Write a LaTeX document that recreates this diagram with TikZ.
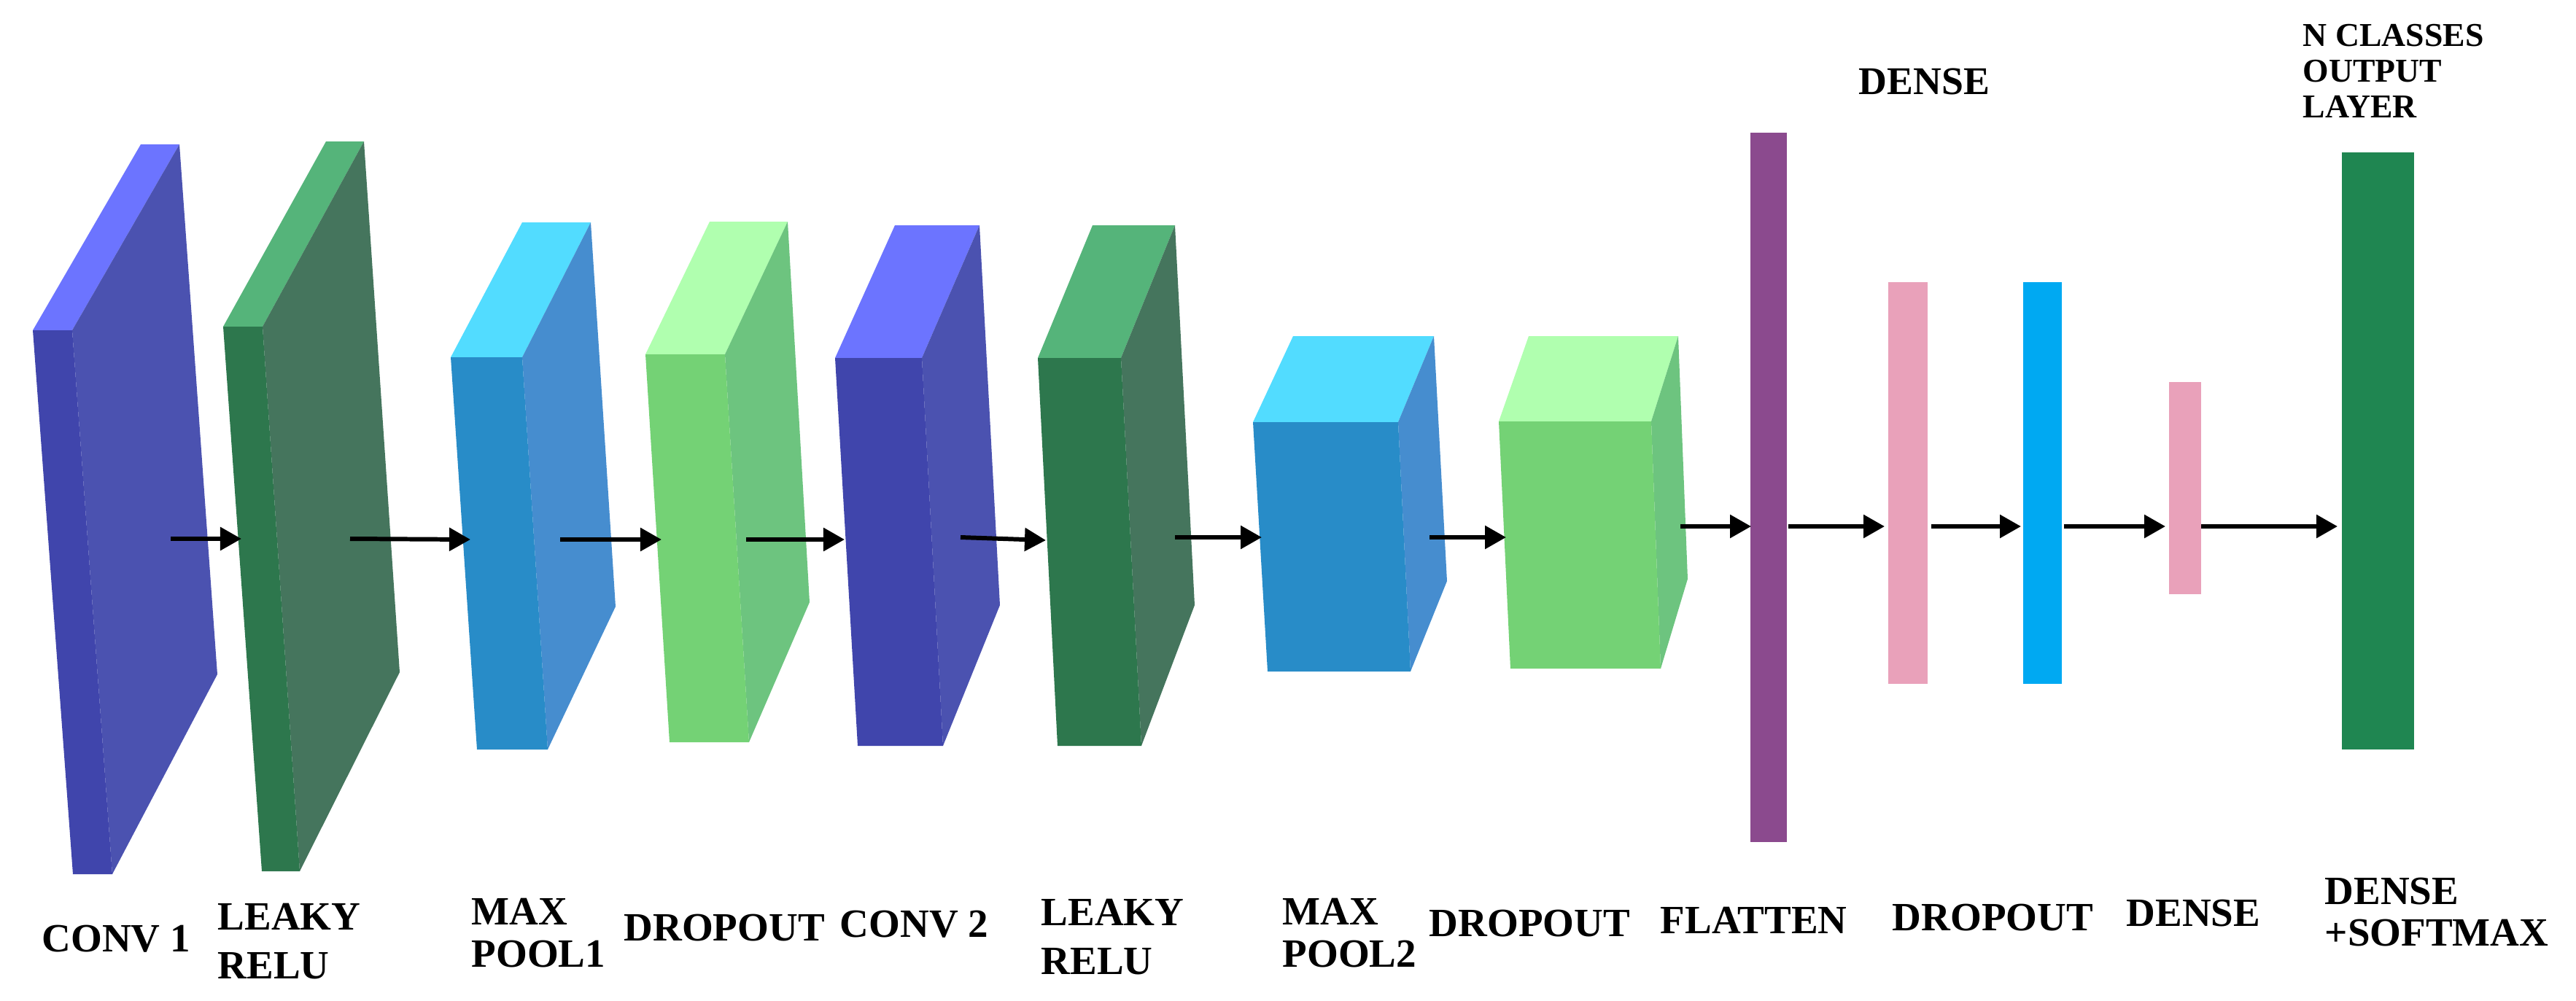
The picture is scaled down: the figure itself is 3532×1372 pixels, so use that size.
\documentclass[tikz,border=0pt]{standalone}
\usepackage{fontspec}
\setmainfont{Liberation Serif}
\usetikzlibrary{arrows.meta}
\definecolor{convF}{HTML}{4045AC}
\definecolor{convS}{HTML}{4B52B0}
\definecolor{convT}{HTML}{6C74FF}
\definecolor{reluF}{HTML}{2D774D}
\definecolor{reluS}{HTML}{45755D}
\definecolor{reluT}{HTML}{55B47A}
\definecolor{poolF}{HTML}{288CC8}
\definecolor{poolS}{HTML}{468DCF}
\definecolor{poolT}{HTML}{52DCFF}
\definecolor{dropF}{HTML}{74D275}
\definecolor{dropS}{HTML}{6DC47F}
\definecolor{dropT}{HTML}{B0FFAF}
\definecolor{flatC}{HTML}{8B4A8E}
\definecolor{pinkC}{HTML}{E9A1BA}
\definecolor{blueC}{HTML}{00A9F2}
\definecolor{outC}{HTML}{1F8651}
\newcommand\slab[8]{%
  \fill[#1T] (#4) -- (#5) -- (#3) -- (#2) -- cycle;
  \fill[#1S] (#3) -- (#5) -- (#6) -- (#7) -- cycle;
  \fill[#1F] (#2) -- (#3) -- (#7) -- (#8) -- cycle;
}
\begin{document}
\begin{tikzpicture}[x=0.01cm,y=-0.01cm,
  arr/.style={line width=1.7pt,-{Triangle[length=0.29cm,width=0.31cm]}},
  lab/.style={font=\bfseries\fontsize{15.65}{16.5}\selectfont,inner sep=0pt,anchor=west,align=left}]
\useasboundingbox (0,0) rectangle (3532,1372);
\fill[white] (0,0) rectangle (3532,1372);

% 3D slabs: style, ftl, ftr, tbl, tbr, rfb, fbr, fbl
\slab{conv}{45,453}{99,453}{193,198}{246,198}{298,925}{154,1199}{100,1199}
\slab{relu}{306,448}{360,448}{447,194}{499,194}{548,922}{411,1195}{359,1195}
\slab{pool}{618,490}{716,490}{716,305}{810,305}{844,832}{751,1028}{654,1028}
\slab{drop}{885,486}{994,486}{973,304}{1080,304}{1110,826}{1027,1018}{918,1018}
\slab{conv}{1145,491}{1264,491}{1227,309}{1343,309}{1371,830}{1293,1023}{1176,1023}
\slab{relu}{1423,491}{1537,491}{1498,309}{1611,309}{1638,830}{1565,1023}{1450,1023}
\slab{pool}{1718,579}{1917,579}{1773,461}{1966,461}{1984,797}{1934,921}{1738,921}
\slab{drop}{2055,578}{2264,578}{2096,461}{2301,461}{2314,794}{2277,917}{2071,917}

% flat bars
\fill[flatC] (2400,182) rectangle (2450,1155);
\fill[pinkC] (2589,387) rectangle (2643,938);
\fill[blueC] (2774,387) rectangle (2827,938);
\fill[pinkC] (2974,524) rectangle (3018,815);
\fill[outC] (3211,209) rectangle (3310,1028);

% connector end points
\coordinate (o1) at (234,739);  \coordinate (i2) at (331,739);
\coordinate (o2) at (480,739);  \coordinate (i3) at (645,740);
\coordinate (o3) at (768,740);  \coordinate (i4) at (907,740);
\coordinate (o4) at (1023,740); \coordinate (i5) at (1158,740);
\coordinate (o5) at (1317,737); \coordinate (i6) at (1434,741);
\coordinate (o6) at (1611,737); \coordinate (i7) at (1730,737);
\coordinate (o7) at (1960,737); \coordinate (i8) at (2065,737);
\coordinate (o8) at (2304,722); \coordinate (i9) at (2401,722);
\coordinate (o9) at (2452,722); \coordinate (i10) at (2584,722);
\coordinate (o10) at (2648,722); \coordinate (i11) at (2771,722);
\coordinate (o11) at (2830,722); \coordinate (i12) at (2969,722);
\coordinate (o12) at (3018,722); \coordinate (i13) at (3205,722);

\draw[arr] (o1) -- (i2);
\draw[arr] (o2) -- (i3);
\draw[arr] (o3) -- (i4);
\draw[arr] (o4) -- (i5);
\draw[arr] (o5) -- (i6);
\draw[arr] (o6) -- (i7);
\draw[arr] (o7) -- (i8);
\draw[arr] (o8) -- (i9);
\draw[arr] (o9) -- (i10);
\draw[arr] (o10) -- (i11);
\draw[arr] (o11) -- (i12);
\draw[arr] (o12) -- (i13);

% labels
\node[lab] (lconv1) at (57,1288) {CONV 1};
\node[lab,font=\bfseries\fontsize{15.65}{19}\selectfont] (lrelu1) at (298,1291) {LEAKY\\RELU};
\node[lab] (lpool1) at (646,1280) {MAX\\POOL1};
\node[lab] (ldrop1) at (855,1273) {DROPOUT};
\node[lab] (lconv2) at (1151,1268) {CONV 2};
\node[lab,font=\bfseries\fontsize{15.65}{19}\selectfont] (lrelu2) at (1427,1285) {LEAKY\\RELU};
\node[lab] (lpool2) at (1758,1280) {MAX\\POOL2};
\node[lab] (ldrop2) at (1959,1267) {DROPOUT};
\node[lab] (lflat) at (2276,1262) {FLATTEN};
\node[lab] (ldrop3) at (2594,1259) {DROPOUT};
\node[lab] (ldense2) at (2915,1253) {DENSE};
\node[lab,font=\bfseries\fontsize{15.65}{16}\selectfont] (lsoft) at (3187,1251) {DENSE\\+SOFTMAX};
\node[lab,font=\bfseries\fontsize{15.3}{16}\selectfont] (ldense1) at (2548,112) {DENSE};
\node[lab,font=\bfseries\fontsize{13}{13.9}\selectfont] (lout) at (3157,97) {N CLASSES\\OUTPUT\\LAYER};
\end{tikzpicture}
\end{document}
